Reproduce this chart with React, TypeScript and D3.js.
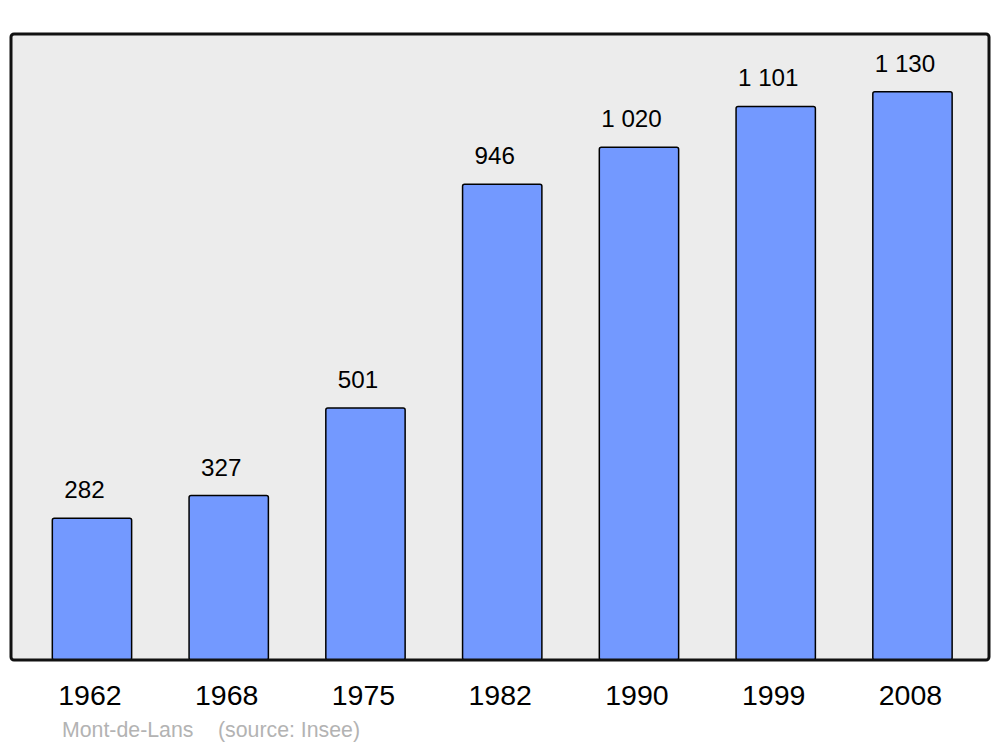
import React from "react";
import * as d3 from "d3";

const years = ["1962", "1968", "1975", "1982", "1990", "1999", "2008"];
const populations = [282, 327, 501, 946, 1020, 1101, 1130];
const valueLabels = ["282", "327", "501", "946", "1 020", "1 101", "1 130"];
const townName = "Mont-de-Lans";
const sourceText = "(source: Insee)";

const W = 1000;
const H = 747;
const frame = { x0: 11, y0: 34, x1: 989, y1: 660 };

export default function App() {
  const x = d3
    .scaleBand<string>()
    .domain(years)
    .range([23.6, 980.85])
    .paddingInner(0.42)
    .paddingOuter(0.21);
  const y = d3.scaleLinear().domain([0, 1245]).range([frame.y1, frame.y0]);
  const font = "'Liberation Sans', Arial, sans-serif";

  return (
    <svg
      width={W}
      height={H}
      style={{ position: "absolute", left: 0, top: 0, background: "#fff" }}
      fontFamily={font}
    >
      <rect
        x={frame.x0}
        y={frame.y0}
        width={frame.x1 - frame.x0}
        height={frame.y1 - frame.y0}
        rx={3}
        fill="#ececec"
        stroke="none"
      />
      {years.map((yr, i) => {
        const bx = x(yr)!;
        const by = y(populations[i]);
        return (
          <g key={yr}>
            <rect
              x={bx}
              y={by}
              width={x.bandwidth()}
              height={y(0) - by}
              rx={2}
              fill="#7399ff"
              stroke="#000"
              strokeWidth={1.5}
            />
            <text
              x={bx + x.bandwidth() / 2 - 7.5}
              y={by - 20}
              textAnchor="middle"
              fontSize={24.2}
              fill="#000"
            >
              {valueLabels[i]}
            </text>
            <text
              x={bx + x.bandwidth() / 2 - 2}
              y={705}
              textAnchor="middle"
              fontSize={28.5}
              fill="#000"
            >
              {yr}
            </text>
          </g>
        );
      })}
      <rect
        x={frame.x0}
        y={frame.y0}
        width={frame.x1 - frame.x0}
        height={frame.y1 - frame.y0}
        rx={3}
        fill="none"
        stroke="#111"
        strokeWidth={3}
      />
      <text x={62} y={737} fontSize={21.3} fill="#b3b3b3">
        {townName}
      </text>
      <text x={218} y={737} fontSize={21.3} fill="#b3b3b3">
        {sourceText}
      </text>
    </svg>
  );
}
